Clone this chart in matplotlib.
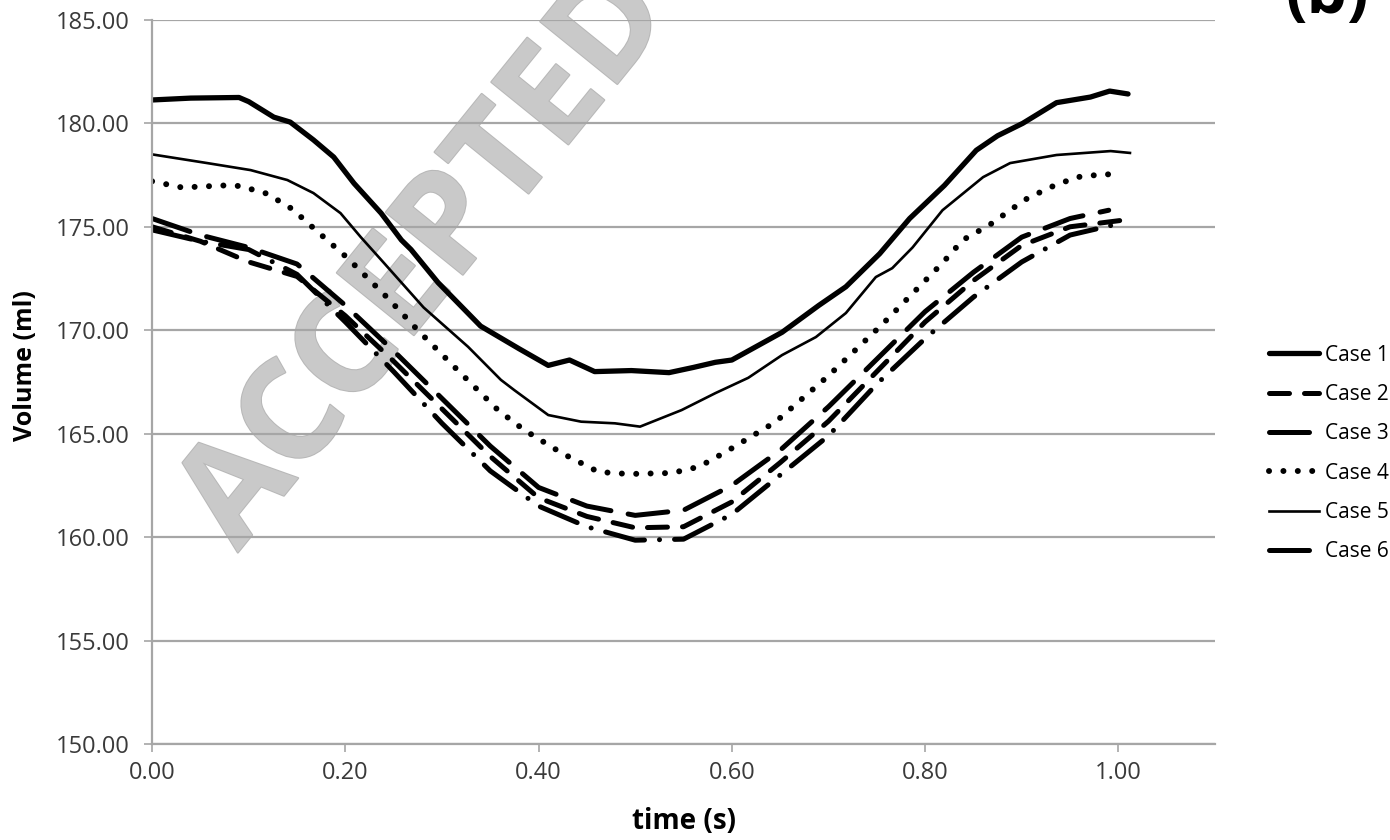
import matplotlib
matplotlib.use("Agg")
import matplotlib.pyplot as plt
import matplotlib.patheffects as pe

plt.rcParams['font.family'] = ['Open Sans', 'DejaVu Sans']

# ---- data ----
t_case1 = [0, .04, .09, .10, .126, .143, .167, .188, .209, .237, .258, .268, .296, .34, .38, .41,
           .432, .458, .496, .535, .56, .583, .60, .652, .69, .718, .753, .784, .82, .853, .875,
           .901, .936, .971, .991, 1.01]
v_case1 = [181.13, 181.22, 181.25, 181.05, 180.3, 180.06, 179.2, 178.37, 177.1, 175.66, 174.36,
           173.9, 172.3, 170.2, 169.1, 168.3, 168.56, 168.0, 168.05, 167.95, 168.2, 168.45, 168.56,
           169.9, 171.2, 172.1, 173.7, 175.4, 177.0, 178.7, 179.4, 180.0, 181.0, 181.27, 181.56,
           181.42]

t_case2 = [0, .05, .1, .15, .2, .25, .3, .35, .4, .45, .5, .55, .6, .65, .7, .75, .8, .85, .9,
           .95, 1.01]
v_case2 = [175.0, 174.3, 173.3, 172.6, 170.7, 168.5, 166.2, 163.9, 161.9, 161.0, 160.45, 160.5,
           161.7, 163.6, 165.6, 168.0, 170.4, 172.4, 174.1, 175.0, 175.35]

t_case3 = [0, .05, .1, .15, .2, .25, .3, .35, .4, .45, .5, .55, .6, .65, .7, .75, .8, .85, .9,
           .95, .99]
v_case3 = [175.4, 174.6, 174.0, 173.2, 171.2, 169.0, 166.7, 164.4, 162.4, 161.5, 161.05, 161.3,
           162.5, 164.2, 166.3, 168.6, 170.9, 172.8, 174.5, 175.4, 175.8]

t_case4 = [0, .031, .076, .091, .119, .145, .167, .202, .244, .275, .316, .358, .385, .424, .462,
           .493, .538, .566, .593, .645, .70, .756, .818, .839, .867, .903, .929, .957, .987, 1.002]
v_case4 = [177.2, 176.9, 177.0, 176.97, 176.6, 175.86, 174.94, 173.5, 171.55, 170.0, 168.08,
           166.14, 165.18, 164.06, 163.15, 163.05, 163.1, 163.4, 164.1, 165.56, 167.8, 170.3,
           173.25, 174.36, 175.1, 176.3, 176.9, 177.4, 177.55, 177.45]

t_case5 = [0, .057, .102, .14, .167, .195, .216, .24, .281, .327, .361, .375, .41, .444, .479,
           .505, .548, .583, .617, .652, .687, .718, .749, .766, .787, .818, .86, .888, .936, .992,
           1.012]
v_case5 = [178.5, 178.08, 177.74, 177.26, 176.63, 175.66, 174.5, 173.25, 171.1, 169.2, 167.6,
           167.1, 165.9, 165.58, 165.5, 165.34, 166.14, 166.96, 167.7, 168.8, 169.67, 170.83,
           172.57, 173.0, 174.0, 175.8, 177.4, 178.08, 178.47, 178.66, 178.57]

t_case6 = [0, .05, .1, .15, .2, .25, .3, .35, .4, .45, .5, .55, .6, .65, .7, .75, .8, .85, .9,
           .95, 1.005]
v_case6 = [174.85, 174.3, 173.9, 172.7, 170.4, 168.0, 165.5, 163.2, 161.5, 160.5, 159.85, 159.9,
           161.1, 163.0, 164.9, 167.4, 169.6, 171.6, 173.3, 174.6, 175.2]

labels = ["Case 1", "Case 2", "Case 3", "Case 4", "Case 5", "Case 6"]
x_ticks = [0.0, 0.2, 0.4, 0.6, 0.8, 1.0]
y_ticks = [150, 155, 160, 165, 170, 175, 180, 185]

fig = plt.figure(figsize=(13.9, 8.4), dpi=100)
ax = fig.add_axes([0.1094, 0.1143, 0.7647, 0.862])
ax.patch.set_visible(False)

# watermark behind the chart
fig.text(0.308, 0.69, "ACCEPTED", fontsize=100, fontweight='bold', color='#c9c9c9',
         rotation=51, ha='center', va='center', zorder=-1,
         path_effects=[pe.withStroke(linewidth=1.5, foreground='#b8b8b8')])

ax.plot(t_case1, v_case1, color='black', lw=3.8, solid_capstyle='round', label=labels[0])
ax.plot(t_case2, v_case2, color='black', lw=3.6, dashes=(4, 3), dash_capstyle='round',
        label=labels[1])
ax.plot(t_case3, v_case3, color='black', lw=3.6, dashes=(8, 3.5), dash_capstyle='round',
        label=labels[2])
ax.plot(t_case4, v_case4, color='black', lw=4.3, dashes=(0.01, 2.4), dash_capstyle='round',
        label=labels[3])
ax.plot(t_case5, v_case5, color='black', lw=1.9, label=labels[4])
ax.plot(t_case6, v_case6, color='black', lw=3.6, dashes=(8, 3, 0.01, 3), dash_capstyle='round',
        label=labels[5])

ax.set_xlim(0, 1.1)
ax.set_ylim(150, 185)
ax.set_xticks(x_ticks)
ax.set_yticks(y_ticks)
ax.set_xticklabels([f"{v:.2f}" for v in x_ticks])
ax.set_yticklabels([f"{v:.2f}" for v in y_ticks])
ax.yaxis.grid(True, color='#a6a6a6', lw=1.6)
ax.set_axisbelow(True)

for s in ['top', 'right']:
    ax.spines[s].set_visible(False)
for s in ['left', 'bottom']:
    ax.spines[s].set_color('#a6a6a6')
    ax.spines[s].set_linewidth(1.6)
ax.tick_params(axis='both', direction='out', length=6, width=1.2, color='#a6a6a6',
               labelsize=17, labelcolor='#3a3a3a')
ax.tick_params(axis='y', pad=10)
ax.tick_params(axis='x', pad=6)

ax.set_xlabel("time (s)", fontsize=20, fontweight='bold', labelpad=16)
ax.set_ylabel("Volume (ml)", fontsize=18, fontweight='bold')
ax.yaxis.set_label_coords(-0.107, 0.523)

ax.legend(loc='center left', bbox_to_anchor=(0.907, 0.46), bbox_transform=fig.transFigure,
          frameon=False, fontsize=15, handlelength=2.4, handletextpad=0.3, labelspacing=0.88,
          borderaxespad=0)

fig.text(0.925, 1 - 13 / 840, "(b)", fontsize=46, fontweight='bold', ha='left',
         va='baseline')

fig.savefig("out.png", dpi=100)
